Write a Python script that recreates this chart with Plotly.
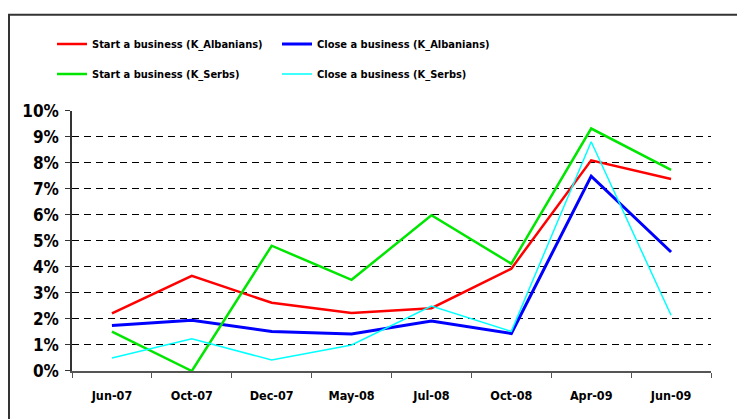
import plotly.graph_objects as go

# survey rounds
periods = ["Jun-07", "Oct-07", "Dec-07", "May-08", "Jul-08", "Oct-08", "Apr-09", "Jun-09"]

# shares (fraction)
start_albanians = [0.0221, 0.0365, 0.0262, 0.0223, 0.0241, 0.0393, 0.0809, 0.0737]
close_albanians = [0.0175, 0.0195, 0.0152, 0.0142, 0.0192, 0.0144, 0.0748, 0.0457]
start_serbs = [0.0151, 0.0000, 0.0481, 0.0350, 0.0598, 0.0412, 0.0931, 0.0772]
close_serbs = [0.0050, 0.0124, 0.0042, 0.0100, 0.0249, 0.0152, 0.0880, 0.0214]

narrow = "Liberation Sans Narrow, Arial Narrow, DejaVu Sans Condensed, Arial"
# page has an 8px body margin, so the figure is a bit smaller than the window
W, H = 737, 411
L, R, T, B = 64, 34, 98, 48

fig = go.Figure()
fig.add_trace(go.Scatter(x=periods, y=start_albanians, mode="lines", name="Start a business (K_Albanians)",
                         line=dict(color="#FF0000", width=2.5), legend="legend"))
fig.add_trace(go.Scatter(x=periods, y=close_albanians, mode="lines", name="Close a business (K_Albanians)",
                         line=dict(color="#0000FF", width=3), legend="legend"))
fig.add_trace(go.Scatter(x=periods, y=start_serbs, mode="lines", name="Start a business (K_Serbs)",
                         line=dict(color="#00E600", width=2.5), legend="legend2"))
fig.add_trace(go.Scatter(x=periods, y=close_serbs, mode="lines", name="Close a business (K_Serbs)",
                         line=dict(color="#00FFFF", width=1.5), legend="legend2"))

pw, ph = W - L - R, H - T - B
# outer frame (top and left edges visible)
fig.add_shape(type="rect", xref="paper", yref="paper",
              x0=(1 - L) / pw, x1=(W + 20 - L) / pw,
              y0=(H - B - (H + 20)) / ph, y1=(H - B - 0.5) / ph,
              line=dict(color="#333333", width=2), layer="above")

legend_font = dict(family=narrow, size=11, color="black", weight="bold")
fig.update_layout(
    width=W, height=H,
    margin=dict(l=L, r=R, t=T, b=B),
    paper_bgcolor="white", plot_bgcolor="white",
    showlegend=True,
    legend=dict(orientation="h", xref="container", yref="container",
                x=44 / W, y=1 - 36 / H, xanchor="left", yanchor="middle",
                entrywidth=180, font=legend_font, bgcolor="rgba(0,0,0,0)", itemwidth=30),
    legend2=dict(orientation="h", xref="container", yref="container",
                 x=44 / W, y=1 - 66 / H, xanchor="left", yanchor="middle",
                 entrywidth=180, font=legend_font, bgcolor="rgba(0,0,0,0)", itemwidth=30),
    xaxis=dict(type="category", range=[-0.5, len(periods) - 0.5],
               tickson="boundaries", ticks="outside", ticklen=5,
               tickcolor="#555555", showline=True, linecolor="#555555", linewidth=1.5,
               showgrid=False, ticklabelstandoff=12,
               tickfont=dict(family=narrow, size=12.5, color="black", weight="bold")),
    yaxis=dict(range=[0, 0.1], dtick=0.01, tickformat=".0%", ticks="outside", ticklen=5,
               tickcolor="#333333", showline=True, linecolor="#333333", linewidth=1.5,
               showgrid=True, gridcolor="black", gridwidth=1, griddash="7px,5px",
               zeroline=False, ticklabelstandoff=3,
               tickfont=dict(family=narrow, size=17, color="black", weight="bold")),
)

fig.write_html("out.html")
